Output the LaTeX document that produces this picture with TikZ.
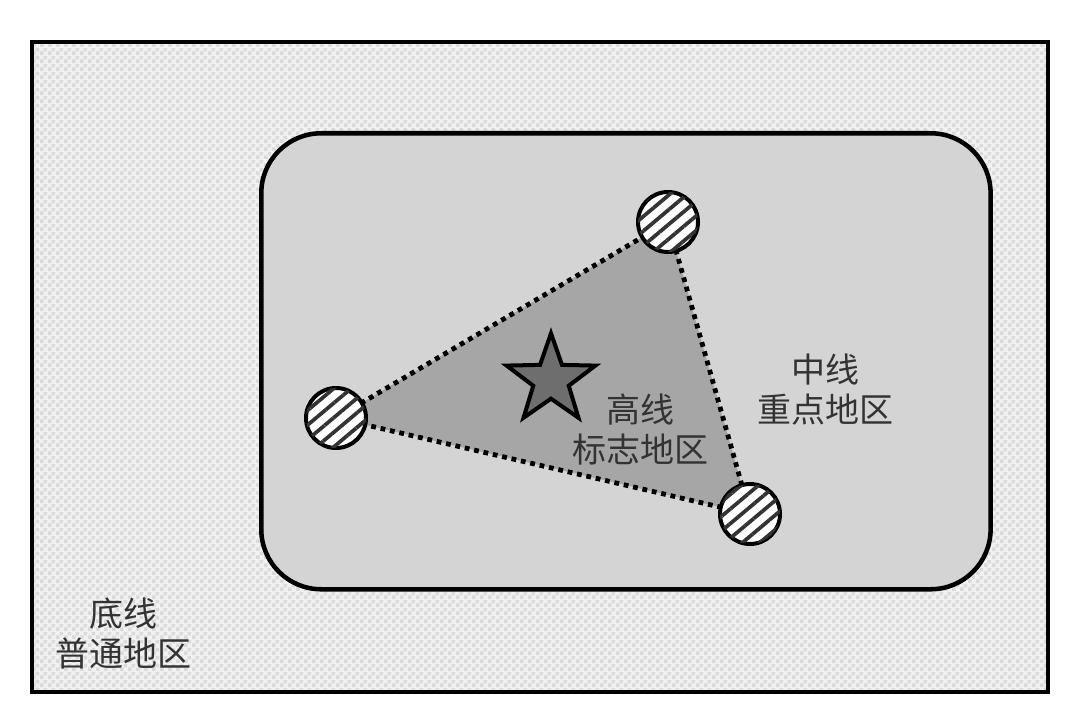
\documentclass[tikz,border=0pt]{standalone}
\usepackage{fontspec}
\newfontfamily\cjk{Noto Sans CJK SC}
\usetikzlibrary{patterns,patterns.meta,shapes.geometric}
\definecolor{outerfill}{HTML}{F2F2F2}
\definecolor{checkc}{HTML}{DADADA}
\definecolor{innerfill}{HTML}{D4D4D4}
\definecolor{trifill}{HTML}{A6A6A6}
\definecolor{starfill}{HTML}{6E6E6E}
\definecolor{txt}{HTML}{333333}
\tikzdeclarepattern{
  name=finechecker,
  type=uncolored,
  bottom left={(0pt,0pt)},
  top right={(6pt,6pt)},
  tile size={(6pt,6pt)},
  code={
    \fill (0pt,0pt) rectangle (3pt,3pt);
    \fill (3pt,3pt) rectangle (6pt,6pt);
  }
}
\tikzset{
  frame/.style={line width=3.4pt,draw=black},
  site/.style={circle,minimum size=45pt,inner sep=0pt,line width=3pt,draw=black,fill=white,
    postaction={pattern={Lines[angle=40,distance=8.4pt,line width=2.8pt]},pattern color=black!80}},
  link/.style={line width=3.6pt,dash pattern=on 3.6pt off 3.6pt},
  label/.style={font=\cjk\fontsize{25.5}{30}\selectfont,text=txt,align=center,inner sep=0pt},
}
\begin{document}
\begin{tikzpicture}[x=0.75pt,y=-0.75pt]
\useasboundingbox (0,0) rectangle (1080,727);
\fill[white] (0,0) rectangle (1080,727);
% outer region
\node[fill=outerfill,minimum width=762pt,minimum height=487.5pt,inner sep=0pt,outer sep=0pt,anchor=north west] (outer) at (32,42) {};
\fill[pattern=finechecker,pattern color=checkc] (outer.north west) rectangle (outer.south east);
\draw[frame] (outer.north west) rectangle (outer.south east);
% inner region
\node[frame,fill=innerfill,rounded corners=45pt,minimum width=547pt,minimum height=342pt,inner sep=0pt,anchor=north west] (inner) at (259,131) {};
% sites
\coordinate (pa) at (336,418);
\coordinate (pb) at (668,222);
\coordinate (pc) at (750,514);
\fill[trifill] (pa) -- (pb) -- (pc) -- cycle;
\draw[link] (pa) -- (pb);
\draw[link] (pb) -- (pc);
\draw[link] (pc) -- (pa);
\node[site] (sa) at (pa) {};
\node[site] (sb) at (pb) {};
\node[site] (sc) at (pc) {};
% star
\node[star,star points=5,star point ratio=2.5,minimum size=70pt,inner sep=0pt,fill=starfill,draw=black,line width=3pt] (star) at (551,380) {};
% labels
\node[label] (high) at (640,430) {高线\\标志地区};
\node[label] (mid) at (825,390) {中线\\重点地区};
\node[label] (low) at (123,634) {底线\\普通地区};
\end{tikzpicture}
\end{document}
